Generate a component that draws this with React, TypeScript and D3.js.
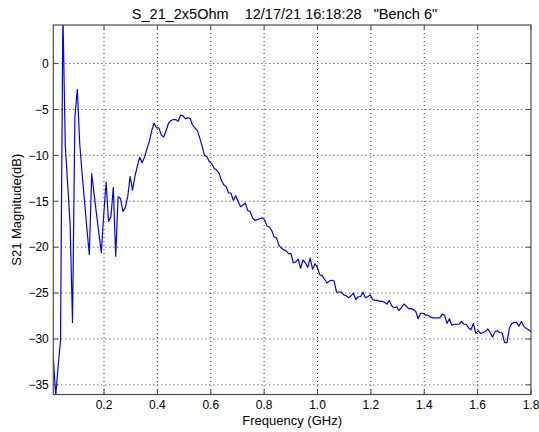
import React from 'react';
import * as d3 from 'd3';

// Sweep settings of the analyser (linear sweep, GHz)
const FREQ_START = 0.01;
const FREQ_STOP = 1.8;

// Measured |S21| in dB, one value per sweep point
const S21_DB = [
  -32.0, -36.2, -33.0, -30.2, 5.5, -9.0, -13.2, -17.5, -28.2, -5.8,
  -2.8, -8.7, -12.0, -15.0, -18.0, -20.8, -12.0, -14.2, -16.4, -18.5,
  -20.6, -16.5, -12.9, -17.2, -16.7, -13.5, -21.0, -14.5, -14.7, -16.1,
  -15.7, -14.5, -12.3, -13.8, -12.3, -11.2, -10.2, -10.8, -10.2, -9.3,
  -8.5, -7.3, -6.5, -7.0, -7.0, -7.8, -8.0, -7.3, -6.5, -6.2,
  -6.1, -6.1, -6.3, -5.6, -5.7, -6.0, -5.9, -6.0, -6.7, -7.0,
  -7.3, -8.1, -9.0, -10.0, -10.15, -10.7, -10.9, -11.4, -11.6, -11.9,
  -12.7, -13.2, -13.4, -14.1, -14.1, -14.9, -14.4, -15.0, -15.6, -15.4,
  -15.2, -16.0, -16.1, -16.8, -17.1, -17.0, -16.9, -16.8, -17.0, -17.7,
  -17.8, -18.2, -18.9, -19.0, -19.8, -20.1, -20.3, -20.4, -20.7, -20.7,
  -21.7, -21.6, -21.3, -22.3, -21.4, -21.7, -22.2, -21.2, -22.4, -21.8,
  -22.2, -23.0, -23.1, -23.5, -23.9, -23.7, -23.6, -23.7, -24.9, -24.9,
  -24.9, -25.2, -25.3, -25.5, -25.3, -25.0, -25.7, -25.4, -25.4, -24.9,
  -25.5, -25.4, -25.2, -25.7, -25.8, -25.8, -25.9, -25.9, -26.0, -26.2,
  -25.8, -26.4, -26.6, -26.5, -26.9, -26.6, -26.2, -26.4, -26.7, -26.7,
  -26.8, -27.0, -27.8, -27.2, -27.2, -27.4, -27.4, -27.6, -27.7, -27.7,
  -27.7, -27.7, -27.3, -27.4, -28.3, -27.8, -28.5, -28.4, -28.4, -28.4,
  -28.1, -28.4, -28.4, -28.8, -29.0, -28.3, -29.4, -29.1, -29.4, -29.3,
  -29.2, -28.9, -29.3, -29.8, -29.2, -29.1, -29.3, -29.35, -30.4, -30.4,
  -28.8, -28.3, -28.2, -28.2, -28.6, -28.1, -28.6, -28.85, -29.0, -29.2,
];

const X_TICKS = [0.2, 0.4, 0.6, 0.8, 1.0, 1.2, 1.4, 1.6, 1.8];
const Y_TICKS = [0, -5, -10, -15, -20, -25, -30, -35];
const Y_MIN = -36.05;
const Y_MAX = 4.2;

const TITLE = 'S_21_2x5Ohm    12/17/21 16:18:28   "Bench 6"';
const X_LABEL = 'Frequency (GHz)';
const Y_LABEL = 'S21 Magnitude(dB)';

const W = 539;
const H = 432;
const M = { left: 53.3, right: 531, top: 25, bottom: 394.5 };
const FONT = '"Liberation Sans", Arial, Helvetica, sans-serif';

export default function App() {
  const step = (FREQ_STOP - FREQ_START) / (S21_DB.length - 1);
  const points: [number, number][] = S21_DB.map((v, i) => [FREQ_START + i * step, v]);

  const x = d3.scaleLinear().domain([FREQ_START, FREQ_STOP]).range([M.left, M.right]);
  const y = d3.scaleLinear().domain([Y_MIN, Y_MAX]).range([M.bottom, M.top]);

  const line = d3
    .line<[number, number]>()
    .x((d) => x(d[0]))
    .y((d) => y(d[1]));

  const fmtY = (v: number) => (v < 0 ? '\u2212' + Math.abs(v) : String(v));
  const tickLen = 5;
  const axisColor = '#4d4d4d';
  const gridColor = '#333';

  return (
    <svg
      width={W}
      height={H}
      style={{ position: 'absolute', left: 0, top: 0, background: '#fff' }}
      fontFamily={FONT}
    >
      <defs>
        <clipPath id="plot-area">
          <rect x={M.left} y={M.top} width={M.right - M.left} height={M.bottom - M.top} />
        </clipPath>
      </defs>

      {/* dotted grid */}
      <g stroke={gridColor} strokeWidth={1} strokeDasharray="1 3" fill="none">
        {X_TICKS.filter((t) => t < FREQ_STOP).map((t) => (
          <line key={'gx' + t} x1={x(t)} x2={x(t)} y1={M.top} y2={M.bottom} />
        ))}
        {Y_TICKS.map((t) => (
          <line key={'gy' + t} x1={M.left} x2={M.right} y1={y(t)} y2={y(t)} />
        ))}
      </g>

      {/* trace */}
      <path
        d={line(points) || ''}
        fill="none"
        stroke="#0000ff"
        strokeWidth={1.2}
        strokeLinejoin="round"
        clipPath="url(#plot-area)"
      />

      {/* inward ticks on all four sides */}
      <g stroke={axisColor} strokeWidth={1}>
        {X_TICKS.map((t) => (
          <g key={'tx' + t}>
            <line x1={x(t)} x2={x(t)} y1={M.bottom} y2={M.bottom - tickLen} />
            <line x1={x(t)} x2={x(t)} y1={M.top} y2={M.top + tickLen} />
          </g>
        ))}
        {Y_TICKS.map((t) => (
          <g key={'ty' + t}>
            <line x1={M.left} x2={M.left + tickLen} y1={y(t)} y2={y(t)} />
            <line x1={M.right} x2={M.right - tickLen} y1={y(t)} y2={y(t)} />
          </g>
        ))}
      </g>

      {/* axes box */}
      <rect
        x={M.left}
        y={M.top}
        width={M.right - M.left}
        height={M.bottom - M.top}
        fill="none"
        stroke={axisColor}
        strokeWidth={1.2}
      />

      {/* tick labels */}
      <g fontSize={12} fill="#000">
        {X_TICKS.map((t) => (
          <text key={'lx' + t} x={x(t)} y={M.bottom + 14} textAnchor="middle">
            {t.toFixed(1)}
          </text>
        ))}
        {Y_TICKS.map((t) => (
          <text key={'ly' + t} x={M.left - 4.5} y={y(t) + 4.3} textAnchor="end">
            {fmtY(t)}
          </text>
        ))}
      </g>

      {/* title and axis labels */}
      <text x={284.5} y={19} fontSize={14.5} textAnchor="middle" style={{ whiteSpace: 'pre' }}>
        {TITLE}
      </text>
      <text x={(M.left + M.right) / 2} y={425} fontSize={13} textAnchor="middle">
        {X_LABEL}
      </text>
      <text
        transform={`translate(21, ${(M.top + M.bottom) / 2}) rotate(-90)`}
        fontSize={13}
        textAnchor="middle"
      >
        {Y_LABEL}
      </text>
    </svg>
  );
}
